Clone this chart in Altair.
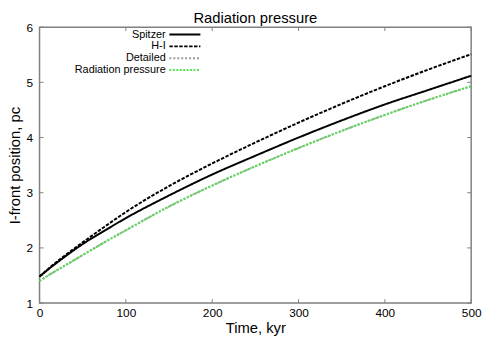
import altair as alt
import pandas as pd

time_kyr = [0, 10, 25, 50, 75, 100, 150, 200, 250, 300, 350, 400, 450, 500]
spitzer = [1.48, 1.61, 1.79, 2.07, 2.31, 2.54, 2.95, 3.33, 3.67, 4.00, 4.31, 4.60, 4.86, 5.12]
h_i = [1.48, 1.62, 1.81, 2.10, 2.38, 2.65, 3.12, 3.53, 3.91, 4.27, 4.61, 4.93, 5.23, 5.51]
detailed = [1.40, 1.50, 1.64, 1.87, 2.10, 2.32, 2.75, 3.13, 3.48, 3.81, 4.12, 4.41, 4.68, 4.93]
radiation = [1.40, 1.50, 1.64, 1.87, 2.10, 2.32, 2.75, 3.13, 3.48, 3.81, 4.12, 4.41, 4.68, 4.93]

series_names = ["Spitzer", "H-I", "Detailed", "Radiation pressure"]
series_colors = ["#000000", "#000000", "#9a9a9a", "#55e055"]
series_dash = [[1, 0], [3.5, 1.5], [2, 2], [2, 1.5]]

x_ticks = [0, 100, 200, 300, 400, 500]
y_ticks = [1, 2, 3, 4, 5, 6]

FONT = "Liberation Sans"

rows = []
for name, vals in zip(series_names, [spitzer, h_i, detailed, radiation]):
    for t, v in zip(time_kyr, vals):
        rows.append({"time": t, "value": v, "series": name})
df = pd.DataFrame(rows)

xs = alt.Scale(domain=[0, 500], nice=False)
ys = alt.Scale(domain=[1, 6], nice=False)

legend = alt.Legend(
    title=None, orient="none", legendX=141, legendY=1,
    symbolType="M-3,0H3", symbolSize=110, symbolStrokeWidth=2,
    labelFont=FONT, labelFontSize=11, labelColor="#000",
    labelAlign="right", labelOffset=alt.ExprRef(expr="-26"),
    rowPadding=0, symbolOffset=0,
)

lines = alt.Chart(df).mark_line(strokeWidth=2, interpolate="monotone").encode(
    x=alt.X("time:Q", scale=xs,
            axis=alt.Axis(title="Time, kyr", values=x_ticks, format="d", ticks=False, domain=False, grid=False,
                          labelPadding=5, labelFontSize=12, labelFont=FONT, labelColor="#000",
                          titleFont=FONT, titleFontSize=15, titleFontWeight="normal",
                          titleColor="#000", titlePadding=2)),
    y=alt.Y("value:Q", scale=ys,
            axis=alt.Axis(title="I-front position, pc", values=y_ticks, format="d", ticks=False, domain=False,
                          grid=False, labelPadding=7, labelFontSize=12, labelFont=FONT, labelColor="#000",
                          titleFont=FONT, titleFontSize=15, titleFontWeight="normal",
                          titleColor="#000", titlePadding=4)),
    color=alt.Color("series:N", scale=alt.Scale(domain=series_names, range=series_colors), legend=legend),
    strokeDash=alt.StrokeDash("series:N", scale=alt.Scale(domain=series_names, range=series_dash), legend=legend),
    order=alt.Order("time:Q"),
)

# inward tick marks on all four sides
xt = pd.DataFrame({"t": x_ticks})
yt = pd.DataFrame({"v": y_ticks})
tick_color = "#808080"
bottom = alt.Chart(xt).transform_calculate(a="1", b="1.07").mark_rule(color=tick_color).encode(
    x=alt.X("t:Q", scale=xs), y=alt.Y("a:Q", scale=ys), y2="b:Q")
top = alt.Chart(xt).transform_calculate(a="6", b="5.93").mark_rule(color=tick_color).encode(
    x=alt.X("t:Q", scale=xs), y=alt.Y("a:Q", scale=ys), y2="b:Q")
left = alt.Chart(yt).transform_calculate(a="0", b="4.6").mark_rule(color=tick_color).encode(
    y=alt.Y("v:Q", scale=ys), x=alt.X("a:Q", scale=xs), x2="b:Q")
right = alt.Chart(yt).transform_calculate(a="500", b="495.4").mark_rule(color=tick_color).encode(
    y=alt.Y("v:Q", scale=ys), x=alt.X("a:Q", scale=xs), x2="b:Q")

chart = alt.layer(bottom, top, left, right, lines).properties(
    width=438, height=280,
    title=alt.TitleParams("Radiation pressure", font=FONT, fontSize=15, fontWeight="normal",
                          color="#000", anchor="middle", offset=-5),
    autosize=alt.AutoSizeParams(type="none"),
    padding={"left": 32, "top": 17, "right": 12, "bottom": 36},
).configure_view(stroke="#808080", strokeWidth=1.5).configure_axis(labelFlush=False)

chart.save("out.html", embed_options={"renderer": "svg", "actions": False})
